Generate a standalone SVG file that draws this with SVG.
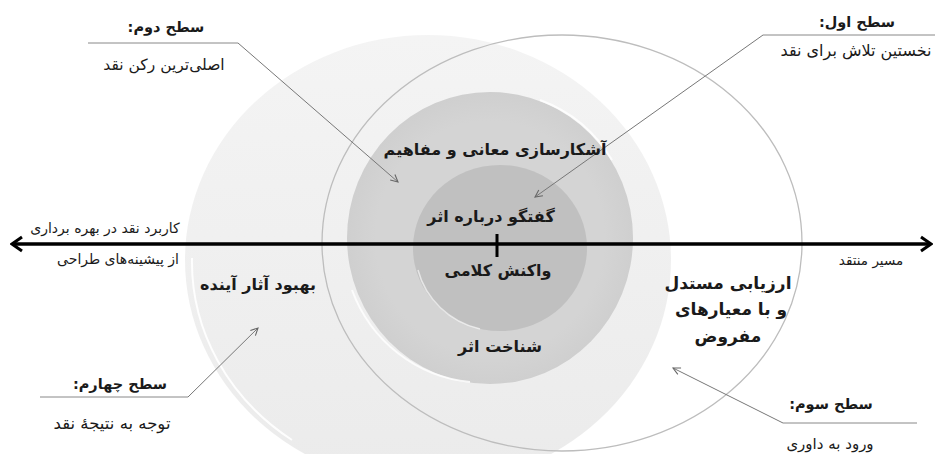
<svg xmlns="http://www.w3.org/2000/svg" width="935" height="454" viewBox="0 0 935 454">
<defs>
<linearGradient id="gA" x1="0" y1="0" x2="0" y2="1">
<stop offset="0" stop-color="#f4f4f4"/>
<stop offset="1" stop-color="#ebebeb"/>
</linearGradient>
<radialGradient id="gD" cx="0.5" cy="0.5" r="0.5">
<stop offset="0.8" stop-color="#d4d4d4"/>
<stop offset="1" stop-color="#cfcfcf"/>
</radialGradient>
<marker id="ah" viewBox="0 0 10 10" refX="9" refY="5" markerWidth="9" markerHeight="9" markerUnits="userSpaceOnUse" orient="auto">
<path d="M1,1 L9,5 L1,9" fill="none" stroke="#666" stroke-width="1.2"/>
</marker>
<marker id="bh" viewBox="0 0 14 18" refX="12" refY="9" markerWidth="14" markerHeight="18" markerUnits="userSpaceOnUse" orient="auto-start-reverse">
<path d="M2,2 L12,9 L2,16" fill="none" stroke="#000" stroke-width="3"/>
</marker>
</defs>
<style>
.t{font-family:"DejaVu Sans",sans-serif;fill:#1a1a1a;text-anchor:middle;direction:rtl;unicode-bidi:embed}
.b{font-weight:bold}
.lead{fill:none;stroke:#777;stroke-width:1}
.ul{fill:none;stroke:#888;stroke-width:1}
</style>
<rect width="935" height="454" fill="#fff"/>
<g id="level4-ring">
<ellipse cx="428" cy="260" rx="243" ry="225" fill="url(#gA)"/>
<path d="M192,258 A236 218 0 0 0 292,440" fill="none" stroke="#fff" stroke-width="2" opacity="0.9"/>
</g>
<g id="level3-ring">
<ellipse cx="562" cy="243" rx="240" ry="208" fill="none" stroke="#bdbdbd" stroke-width="1.3"/>
</g>
<g id="level2-disc">
<ellipse cx="490" cy="238" rx="143" ry="146" fill="url(#gD)"/>
<path d="M352,290 A140 143 0 0 0 470,382" fill="none" stroke="#fff" stroke-width="2" opacity="0.8"/>
<path d="M540,100 A140 143 0 0 1 612,160" fill="none" stroke="#fff" stroke-width="2" opacity="0.8"/>
</g>
<g id="level1-disc">
<ellipse cx="500" cy="248" rx="87" ry="83" fill="#c0c0c0"/>
<path d="M418,270 A85 81 0 0 0 480,329" fill="none" stroke="#fff" stroke-width="1.5" opacity="0.6"/>
</g>
<g id="connectors">
<line x1="12" y1="244" x2="931" y2="244" stroke="#000" stroke-width="3.5" marker-start="url(#bh)" marker-end="url(#bh)"/>
<line x1="497" y1="234" x2="497" y2="257" stroke="#000" stroke-width="3"/>
<path class="ul" d="M88,43 H238"/>
<path class="lead" d="M238,43 L398,182" marker-end="url(#ah)"/>
<path class="ul" d="M935,35 H763"/>
<path class="lead" d="M763,35 L535,197" marker-end="url(#ah)"/>
<path class="ul" d="M40,397 H188"/>
<path class="lead" d="M188,397 L258,328" marker-end="url(#ah)"/>
<path class="ul" d="M917,423 H783"/>
<path class="lead" d="M783,423 L673,368" marker-end="url(#ah)"/>
</g>
<g id="label-level2">
<text class="t b" x="166" y="32" font-size="14.5">سطح دوم:</text>
<text class="t" x="164" y="70" font-size="15.5">اصلی‌ترین رکن نقد</text>
</g>
<g id="label-level1">
<text class="t b" x="857" y="27" font-size="14.5">سطح اول:</text>
<text class="t" x="856" y="56" font-size="16">نخستین تلاش برای نقد</text>
</g>
<g id="label-level4">
<text class="t b" x="120" y="389" font-size="14.5">سطح چهارم:</text>
<text class="t" x="112" y="429" font-size="16.5">توجه به نتیجهٔ نقد</text>
</g>
<g id="label-level3">
<text class="t b" x="831" y="409" font-size="14.5">سطح سوم:</text>
<text class="t" x="830" y="449" font-size="15">ورود به داوری</text>
</g>
<g id="axis-labels">
<text class="t" x="105" y="233" font-size="14">کاربرد نقد در بهره برداری</text>
<text class="t" x="118" y="264" font-size="14">از پیشینه‌های طراحی</text>
<text class="t" x="871" y="265" font-size="13.5" fill="#333">مسیر منتقد</text>
</g>
<g id="ring-texts">
<text class="t b" x="495" y="155" font-size="16">آشکارسازی معانی و مفاهیم</text>
<text class="t b" x="491" y="222" font-size="16">گفتگو درباره اثر</text>
<text class="t b" x="498" y="276" font-size="16">واکنش کلامی</text>
<text class="t b" x="500" y="352" font-size="16">شناخت اثر</text>
<text class="t b" x="258" y="290" font-size="16">بهبود آثار آینده</text>
<text class="t b" x="728" y="289" font-size="17">ارزیابی مستدل</text>
<text class="t b" x="731" y="315" font-size="17">و با معیارهای</text>
<text class="t b" x="728" y="342" font-size="17">مفروض</text>
</g>
</svg>
